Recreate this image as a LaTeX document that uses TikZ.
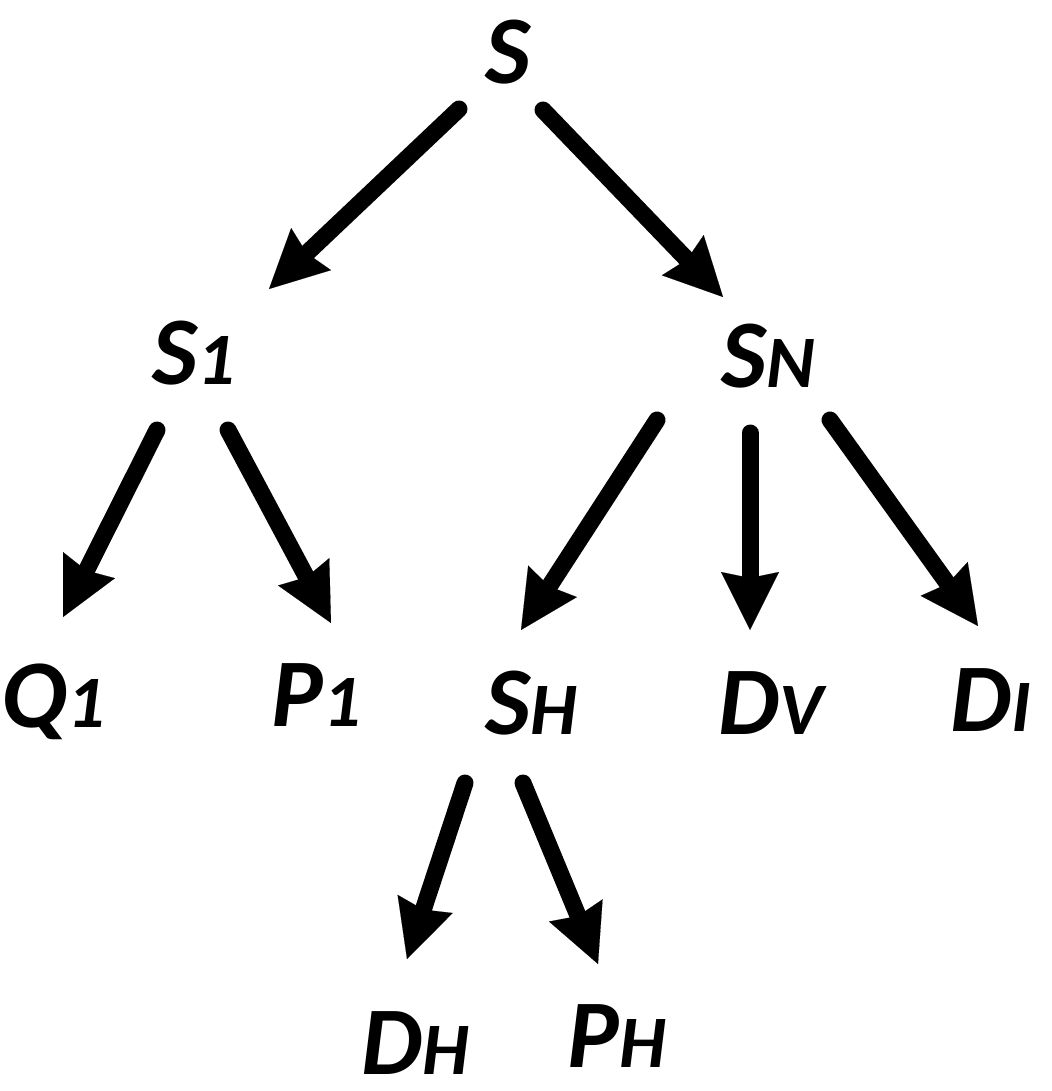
\documentclass[tikz,border=0pt]{standalone}
\usepackage{fontspec}
\setmainfont{Carlito}
\usetikzlibrary{arrows.meta}
\usetikzlibrary{calc}
\tikzset{lbl/.style={inner sep=0pt, anchor=base, text depth=0pt, font=\bfseries\itshape},
edge/.style={->, line width=17pt, line cap=round},
>={Stealth[length=58pt,width=58pt,inset=6pt,line width=0.1pt]}}
\newcommand{\lab}[2]{{\fontsize{97}{97}\selectfont #1}{\fontsize{74}{74}\selectfont #2}}

\begin{document}
\begin{tikzpicture}[x=1pt,y=-1pt]
  \useasboundingbox (0,0) rectangle (1051,1091);
  \node (s) [lbl] at (508,84) {\lab{S}{}};
  \node (s1) [lbl] at (194,384) {\lab{S}{1}};
  \node (sn) [lbl] at (768,387) {\lab{S}{N}};
  \node (q1) [lbl] at (53,727) {\lab{Q}{1}};
  \node (p1) [lbl] at (316,726) {\lab{P}{1}};
  \node (sh) [lbl] at (531,734) {\lab{S}{H}};
  \node (dv) [lbl] at (771,734) {\lab{D}{V}};
  \node (di) [lbl] at (991,731) {\lab{D}{I}};
  \node (dh) [lbl] at (415,1074) {\lab{D}{H}};
  \node (ph) [lbl] at (617,1067) {\lab{P}{H}};

  \draw [edge] ($(s.base)+(-49,25)$) -- ($(s1.base)+(75,-95)$);
  \draw [edge] ($(s.base)+(35,26)$) -- ($(sn.base)+(-45,-90)$);
  \draw [edge] ($(s1.base)+(-37,46)$) -- ($(q1.base)+(10,-110)$);
  \draw [edge] ($(s1.base)+(34,46)$) -- ($(p1.base)+(15,-103)$);
  \draw [edge] ($(sn.base)+(-111,33)$) -- ($(sh.base)+(-10,-104)$);
  \draw [edge] ($(sn.base)+(-18,46)$) -- ($(dv.base)+(-21,-104)$);
  \draw [edge] ($(sn.base)+(62,33)$) -- ($(di.base)+(-13,-105)$);
  \draw [edge] ($(sh.base)+(-66,49)$) -- ($(dh.base)+(-8,-115)$);
  \draw [edge] ($(sh.base)+(-8,49)$) -- ($(ph.base)+(-19,-103)$);
\end{tikzpicture}
\end{document}
